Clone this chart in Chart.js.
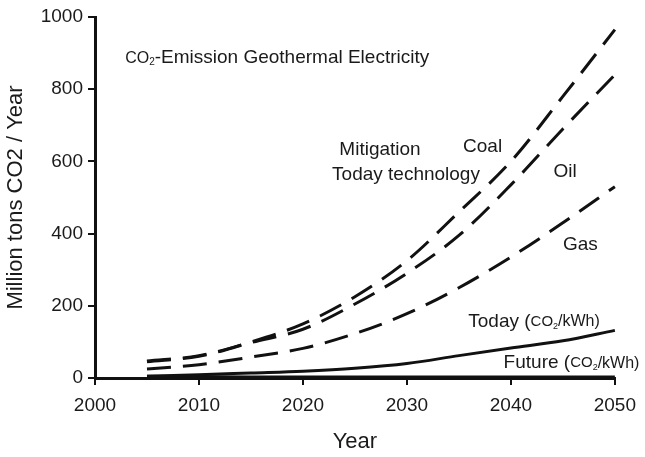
<!DOCTYPE html>
<html>
<head>
<meta charset="utf-8">
<script src="https://cdn.jsdelivr.net/npm/chart.js@4/dist/chart.umd.min.js"></script>
<style>
  html, body { margin: 0; padding: 0; background: #fff; }
  #wrap { width: 645px; height: 457px; }
</style>
</head>
<body>
<div id="wrap"><canvas id="c" width="645" height="457"></canvas></div>
<script>
// Projected CO2 emission (million tons / year) avoided by geothermal electricity
const years       = [2005, 2010, 2015, 2020, 2025, 2030, 2035, 2040, 2045, 2050];
const coal        = [47, 62, 100, 150, 225, 325, 460, 600, 780, 965];
const oil         = [45, 60, 98, 135, 205, 290, 395, 535, 690, 840];
const gas         = [25, 37, 58, 82, 123, 178, 250, 335, 430, 530];
const todayKWh    = [5, 9, 14, 19, 27, 40, 62, 83, 103, 132];
const futureKWh   = [5, 4, 3, 3, 3, 3, 3, 3, 3, 3];
const xTicks      = [2000, 2010, 2020, 2030, 2040, 2050];
const yTicks      = [0, 200, 400, 600, 800, 1000];

const FONT = "'Liberation Sans', Arial, Helvetica, sans-serif";
const INK = '#1a1a1a';

const pts = arr => arr.map((v, i) => ({ x: years[i], y: v }));

function series(data, dashed) {
  return {
    data: pts(data),
    borderColor: '#111',
    borderWidth: 3,
    borderDash: dashed ? [24, 12] : [],
    pointRadius: 0,
    cubicInterpolationMode: 'monotone',
    fill: false,
    clip: false
  };
}

// Text runs: each piece has its own size and baseline shift (for subscripts)
const notes = [
  { x: 2002.9, y: 886, runs: [['CO', 16, 0], ['2', 10, 4], ['-Emission Geothermal Electricity', 19, 0]] },
  { x: 2023.5, y: 632, runs: [['Mitigation', 19, 0]] },
  { x: 2022.8, y: 562, runs: [['Today technology', 19, 0]] },
  { x: 2035.4, y: 640, runs: [['Coal', 19, 0]] },
  { x: 2044.1, y: 571, runs: [['Oil', 19, 0]] },
  { x: 2045.0, y: 368, runs: [['Gas', 19, 0]] },
  { x: 2035.9, y: 155, runs: [['Today (', 19, 0], ['CO', 15, 0], ['2', 9, 4], ['/kWh)', 16, 0]] },
  { x: 2039.3, y: 41, runs: [['Future (', 19, 0], ['CO', 15, 0], ['2', 9, 4], ['/kWh)', 16, 0]] }
];

const notePlugin = {
  id: 'notes',
  afterDraw(chart) {
    const ctx = chart.ctx;
    const xs = chart.scales.x, ys = chart.scales.y;
    ctx.save();
    ctx.fillStyle = INK;
    ctx.textBaseline = 'middle';
    ctx.textAlign = 'left';
    notes.forEach(n => {
      let px = xs.getPixelForValue(n.x);
      const py = ys.getPixelForValue(n.y);
      n.runs.forEach(([t, size, dy]) => {
        ctx.font = size + 'px ' + FONT;
        ctx.fillText(t, px, py + dy);
        px += ctx.measureText(t).width;
      });
    });
    ctx.restore();
  }
};

const axisCommon = {
  type: 'linear',
  grid: { drawOnChartArea: false, drawTicks: true, tickLength: 7, color: '#111', lineWidth: 2 },
  border: { display: true, color: '#111', width: 3 },
};

new Chart(document.getElementById('c'), {
  type: 'line',
  data: {
    datasets: [
      series(coal, true),
      series(oil, true),
      series(gas, true),
      series(todayKWh, false),
      series(futureKWh, false)
    ]
  },
  options: {
    responsive: false,
    animation: false,
    events: [],
    layout: { padding: { top: 17, right: 28, left: 0, bottom: 0 } },
    plugins: { legend: { display: false }, tooltip: { enabled: false } },
    scales: {
      x: Object.assign({}, axisCommon, {
        min: 2000, max: 2050,
        afterBuildTicks: s => { s.ticks = xTicks.map(v => ({ value: v })); },
        ticks: { color: INK, font: { family: FONT, size: 19 }, padding: 9, maxRotation: 0, callback: v => String(v) },
        title: { display: true, text: 'Year', color: INK, font: { family: FONT, size: 22 }, padding: { top: 0, bottom: 2 } },
        afterFit: s => { s.height = 79; }
      }),
      y: Object.assign({}, axisCommon, {
        min: 0, max: 1000,
        afterBuildTicks: s => { s.ticks = yTicks.map(v => ({ value: v })); },
        ticks: { color: INK, font: { family: FONT, size: 19 }, padding: 5, callback: v => String(v) },
        title: { display: true, text: 'Million tons CO2 / Year', color: INK, font: { family: FONT, size: 22 }, padding: { top: 3, bottom: 0 } },
        afterFit: s => { s.width = 95; }
      })
    }
  },
  plugins: [notePlugin]
});
</script>
</body>
</html>
